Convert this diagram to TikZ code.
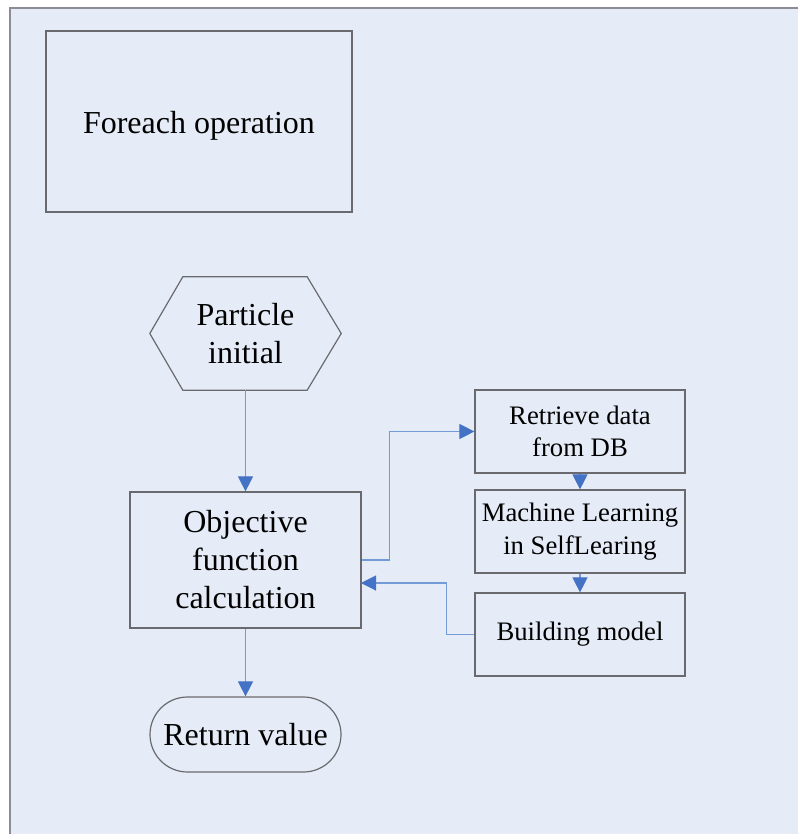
\documentclass[tikz,border=0pt]{standalone}
\usepackage{fontspec}
\setmainfont{Liberation Serif}
\usetikzlibrary{arrows.meta,shapes.misc}
\definecolor{bgfill}{HTML}{E6ECF7}
\definecolor{framecol}{HTML}{8C8C94}
\definecolor{boxcol}{HTML}{6A6A6E}
\definecolor{linecol}{HTML}{729BD7}
\definecolor{headcol}{HTML}{4472C4}
\tikzset{
  box/.style={draw=boxcol, line width=1.2pt, inner sep=0pt, align=center, text=black},
  bigtext/.style={font=\fontsize{32}{38}\selectfont},
  smalltext/.style={font=\fontsize{26.7}{32.5}\selectfont},
  conn/.style={draw=linecol, line width=1.1pt, -{Triangle[length=15pt,width=15pt,color=headcol]}},
}
\begin{document}
\begin{tikzpicture}[x=1pt,y=-1pt]
\useasboundingbox (0,0) rectangle (798,834);
\fill[bgfill] (10,8) rectangle (798,834);
\draw[framecol, line width=2pt] (10,834) -- (10,8) -- (798,8);

\node[box, bigtext, minimum width=306pt, minimum height=181pt] (fe) at (199,121.5) {\raisebox{-4pt}[\height][\depth]{Foreach operation}};

\node[inner sep=0pt, bigtext, align=center, minimum width=191pt, minimum height=113pt] (hex) at (245.5,333.5) {Particle\\initial};
\draw[boxcol, line width=1.2pt] (hex.west) -- ([xshift=33pt]hex.north west) -- ([xshift=-34pt]hex.north east) -- (hex.east) -- ([xshift=-34pt]hex.south east) -- ([xshift=33pt]hex.south west) -- cycle;

\node[box, bigtext, minimum width=231pt, minimum height=136pt] (obj) at (245.5,560) {Objective\\function\\calculation};

\node[box, bigtext, rounded rectangle, minimum width=191pt, minimum height=75pt] (ret) at (245.5,734.5) {Return value};

\node[box, smalltext, minimum width=210pt, minimum height=83pt] (rd) at (580,431.5) {Retrieve data\\from DB};
\node[box, smalltext, minimum width=210pt, minimum height=83pt] (ml) at (580,531.5) {Machine Learning\\in SelfLearing};
\node[box, smalltext, minimum width=210pt, minimum height=83pt] (bm) at (580,634.5) {Building model};

\coordinate (objin) at (361,583);

\draw[conn] (hex.south) -- (obj.north);
\draw[conn] (obj.south) -- (ret.north);
\draw[conn] (rd.south) -- (ml.north);
\draw[conn] (ml.south) -- (bm.north);
\draw[conn] (obj.east) -- ++(28,0) |- (rd.west);
\draw[conn] (bm.west) -- ++(-28,0) |- (objin);
\end{tikzpicture}
\end{document}
